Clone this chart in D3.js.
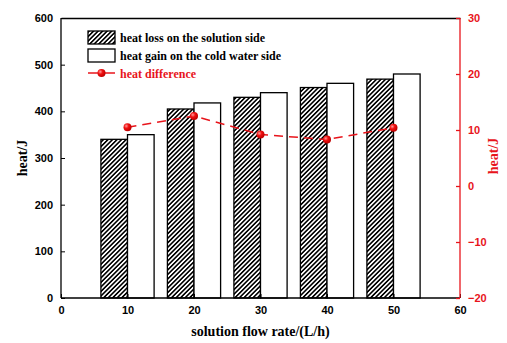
<!DOCTYPE html>
<html>
<head>
<meta charset="utf-8">
<script src="https://cdn.jsdelivr.net/npm/d3@7"></script>
<style>
  body { margin: 0; background: #fff; }
  .tick text { font-family: Arial, "Liberation Sans", sans-serif; font-weight: bold; font-size: 11px; }
</style>
</head>
<body>
<div id="chart"></div>
<script>
// data
const flowRates = [10, 20, 30, 40, 50];
const heatLoss = [340, 405, 430, 451, 469];
const heatGain = [350, 418, 440, 460, 480];
const heatDiff = [10.5, 12.5, 9.2, 8.3, 10.4];
const xTicks = [0, 10, 20, 30, 40, 50, 60];
const yLeftTicks = [0, 100, 200, 300, 400, 500, 600];
const yRightTicks = [-20, -10, 0, 10, 20, 30];

const width = 507, height = 343;
const margin = {top: 18, right: 47, bottom: 45, left: 61};
const w = width - margin.left - margin.right;
const h = height - margin.top - margin.bottom;
const red = '#e8141b';
const serif = '"Times New Roman", "Liberation Serif", serif';

const svg = d3.select('#chart').append('svg')
    .attr('width', width)
    .attr('height', height);

const defs = svg.append('defs');
defs.append('pattern')
    .attr('id', 'hatch')
    .attr('patternUnits', 'userSpaceOnUse')
    .attr('width', 3.2).attr('height', 3.2)
    .attr('patternTransform', 'rotate(45)')
    .append('rect')
    .attr('x', 0).attr('y', 0)
    .attr('width', 1.6).attr('height', 3.2)
    .attr('fill', '#000');

const grad = defs.append('radialGradient')
    .attr('id', 'ball')
    .attr('cx', '35%').attr('cy', '35%').attr('r', '65%');
grad.append('stop').attr('offset', '0%').attr('stop-color', '#ff9a9a');
grad.append('stop').attr('offset', '45%').attr('stop-color', '#f01010');
grad.append('stop').attr('offset', '100%').attr('stop-color', '#c00000');

const g = svg.append('g')
    .attr('transform', 'translate(' + margin.left + ',' + margin.top + ')');

const x = d3.scaleLinear().domain([0, 60]).range([0, w]);
const yL = d3.scaleLinear().domain([0, 600]).range([h, 0]);
const yR = d3.scaleLinear().domain([-20, 30]).range([h, 0]);
const barW = x(4) - x(0);

// bars
g.selectAll('.loss')
    .data(flowRates)
    .enter().append('rect')
    .attr('class', 'loss')
    .attr('x', (d) => x(d) - barW)
    .attr('y', (d, i) => yL(heatLoss[i]))
    .attr('width', barW)
    .attr('height', (d, i) => h - yL(heatLoss[i]))
    .attr('fill', 'url(#hatch)')
    .attr('stroke', '#000')
    .attr('stroke-width', 1.3);

g.selectAll('.gain')
    .data(flowRates)
    .enter().append('rect')
    .attr('class', 'gain')
    .attr('x', (d) => x(d))
    .attr('y', (d, i) => yL(heatGain[i]))
    .attr('width', barW)
    .attr('height', (d, i) => h - yL(heatGain[i]))
    .attr('fill', '#fff')
    .attr('stroke', '#000')
    .attr('stroke-width', 1.3);

// heat difference line
const line = d3.line()
    .x((d, i) => x(flowRates[i]))
    .y((d) => yR(d));

g.append('path')
    .datum(heatDiff)
    .attr('fill', 'none')
    .attr('stroke', red)
    .attr('stroke-width', 1.5)
    .attr('stroke-dasharray', '9,6')
    .attr('d', line);

g.selectAll('.pt')
    .data(heatDiff)
    .enter().append('circle')
    .attr('class', 'pt')
    .attr('cx', (d, i) => x(flowRates[i]))
    .attr('cy', (d) => yR(d))
    .attr('r', 4)
    .attr('fill', 'url(#ball)');

// axes
const axBottom = g.append('g')
    .attr('transform', 'translate(0,' + h + ')')
    .call(d3.axisBottom(x).tickValues(xTicks).tickSize(-4).tickPadding(8));
const axTop = g.append('g')
    .call(d3.axisTop(x).tickValues([]).tickSizeOuter(0));
const axLeft = g.append('g')
    .call(d3.axisLeft(yL).tickValues(yLeftTicks).tickSize(-4).tickPadding(8));
const axRight = g.append('g')
    .attr('transform', 'translate(' + w + ',0)')
    .call(d3.axisRight(yR).tickValues(yRightTicks).tickSize(-4).tickPadding(8));

[axBottom, axTop, axLeft].forEach((a) => {
    a.select('.domain').attr('stroke', '#000').attr('stroke-width', 1.3);
    a.selectAll('.tick line').attr('stroke', '#000').attr('stroke-width', 1);
    a.selectAll('.tick text').attr('fill', '#000');
});
axRight.select('.domain').attr('stroke', red).attr('stroke-width', 1.3);
axRight.selectAll('.tick line').attr('stroke', red).attr('stroke-width', 1.3);
axRight.selectAll('.tick text').attr('fill', red);
axBottom.select('.domain').attr('d', 'M0,0H' + w);
axLeft.select('.domain').attr('d', 'M0,0V' + h);
axRight.select('.domain').attr('d', 'M0,0V' + h);

// axis titles
svg.append('text')
    .attr('transform', 'translate(27,' + (margin.top + h / 2) + ') rotate(-90)')
    .attr('text-anchor', 'middle')
    .style('font-family', serif).style('font-weight', 'bold').style('font-size', '14px')
    .text('heat/J');

svg.append('text')
    .attr('transform', 'translate(498,' + (margin.top + h / 2 - 2) + ') rotate(-90)')
    .attr('text-anchor', 'middle')
    .attr('fill', red)
    .style('font-family', serif).style('font-weight', 'bold').style('font-size', '14px')
    .text('heat/J');

svg.append('text')
    .attr('x', margin.left + w / 2)
    .attr('y', 336)
    .attr('text-anchor', 'middle')
    .style('font-family', serif).style('font-weight', 'bold').style('font-size', '14px')
    .text('solution flow rate/(L/h)');

// legend
const legend = svg.append('g').attr('transform', 'translate(88,31)');
const legendItems = [
    {label: 'heat loss on the solution side', kind: 'hatch'},
    {label: 'heat gain on the cold water side', kind: 'white'},
    {label: 'heat difference', kind: 'line'}
];
legendItems.forEach((item, i) => {
    const row = legend.append('g').attr('transform', 'translate(0,' + (i * 18) + ')');
    if (item.kind === 'line') {
        row.append('line')
            .attr('x1', 0).attr('x2', 27).attr('y1', 6).attr('y2', 6)
            .attr('stroke', red).attr('stroke-width', 1.5);
        row.append('circle')
            .attr('cx', 13.5).attr('cy', 6).attr('r', 4)
            .attr('fill', 'url(#ball)');
    } else {
        row.append('rect')
            .attr('x', 0).attr('y', 0).attr('width', 27).attr('height', 13)
            .attr('fill', item.kind === 'hatch' ? 'url(#hatch)' : '#fff')
            .attr('stroke', '#000').attr('stroke-width', 1.3);
    }
    row.append('text')
        .attr('x', 32).attr('y', 11)
        .attr('fill', item.kind === 'line' ? red : '#000')
        .style('font-family', serif).style('font-weight', 'bold').style('font-size', '12px')
        .text(item.label);
});
</script>
</body>
</html>
